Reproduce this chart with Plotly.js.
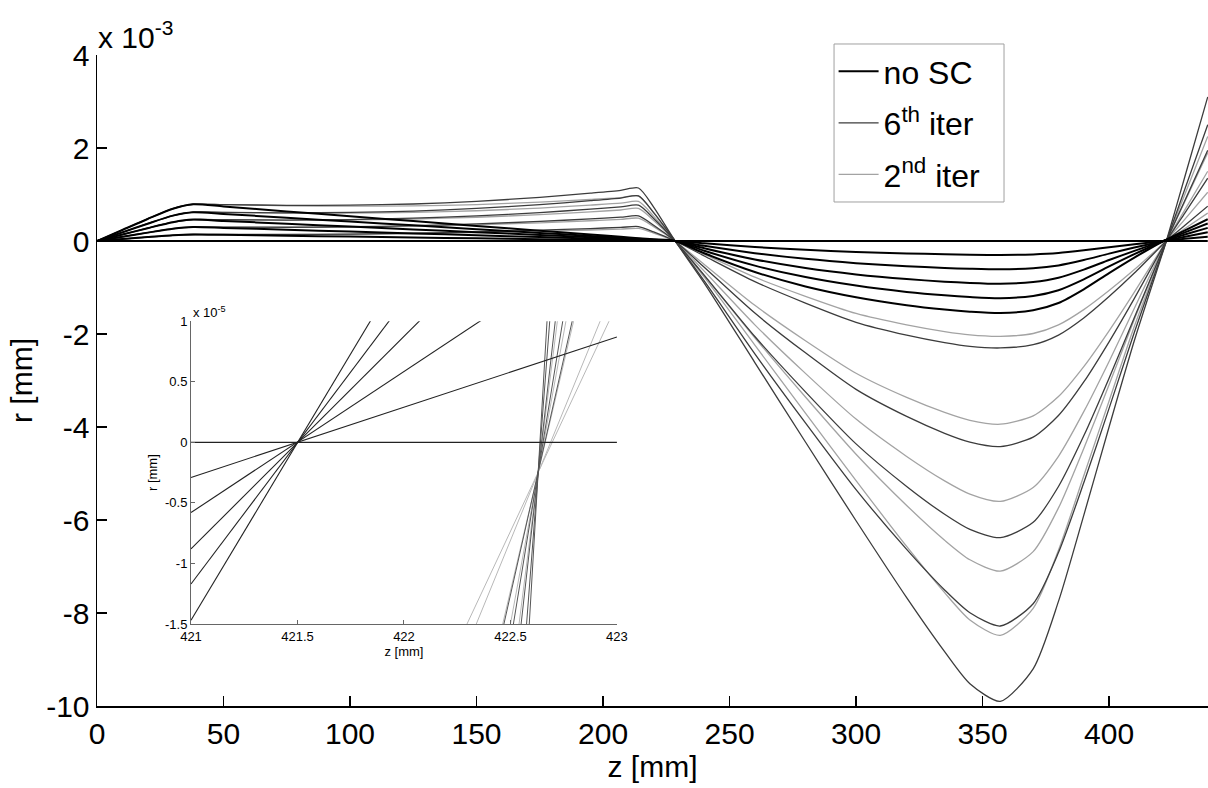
<!DOCTYPE html>
<html>
<head>
<meta charset="utf-8">
<script src="https://cdn.plot.ly/plotly-3.0.1.min.js"></script>
<style>
html,body{margin:0;padding:0;background:#fff;}
#chart{width:1208px;height:788px;}
</style>
</head>
<body>
<div id="chart"></div>
<script>
// ---------- main plot data (r in units of 1e-3 mm) ----------
const z = [0, 10, 20, 30, 38, 50, 75, 100, 125, 150, 175, 195, 207, 214, 220, 228.5, 240, 260, 280, 300, 320, 335, 345, 357, 370, 380, 390, 400, 410, 421.5, 422.65, 430, 439];

const noSC0 = [0,0,0,0,0,0,0,0,0,0,0,0,0,0,0,0,0,0,0,0,0,0,0,0,0,0,0,0,0,0,0,0,0];
const noSC1 = [0, 0.042, 0.084, 0.123, 0.14, 0.132, 0.113, 0.095, 0.076, 0.058, 0.039, 0.025, 0.016, 0.011, 0.006, 0, -0.051, -0.129, -0.189, -0.234, -0.267, -0.285, -0.294, -0.30, -0.288, -0.258, -0.201, -0.134, -0.069, 0, 0.006, 0.046, 0.094];
const noSC2 = [0, 0.09, 0.18, 0.264, 0.30, 0.282, 0.242, 0.203, 0.163, 0.124, 0.084, 0.053, 0.034, 0.023, 0.014, 0, -0.104, -0.262, -0.384, -0.476, -0.543, -0.58, -0.598, -0.61, -0.586, -0.525, -0.409, -0.271, -0.14, 0, 0.012, 0.092, 0.188];
const noSC3 = [0, 0.138, 0.276, 0.405, 0.46, 0.432, 0.371, 0.31, 0.25, 0.19, 0.129, 0.081, 0.052, 0.035, 0.021, 0, -0.156, -0.396, -0.58, -0.718, -0.819, -0.874, -0.902, -0.92, -0.883, -0.791, -0.616, -0.409, -0.212, 0, 0.018, 0.138, 0.282];
const noSC4 = [0, 0.186, 0.372, 0.546, 0.62, 0.583, 0.50, 0.419, 0.337, 0.255, 0.174, 0.109, 0.07, 0.047, 0.028, 0, -0.209, -0.529, -0.775, -0.959, -1.095, -1.169, -1.205, -1.23, -1.181, -1.058, -0.824, -0.547, -0.283, 0, 0.024, 0.184, 0.376];
const noSC5 = [0, 0.237, 0.474, 0.695, 0.79, 0.743, 0.637, 0.533, 0.429, 0.325, 0.222, 0.139, 0.089, 0.06, 0.036, 0, -0.264, -0.667, -0.977, -1.209, -1.38, -1.473, -1.519, -1.55, -1.488, -1.333, -1.039, -0.69, -0.357, 0, 0.03, 0.23, 0.47];

const iter6_1 = [0, 0.042, 0.084, 0.123, 0.14, 0.14, 0.14, 0.15, 0.167, 0.195, 0.232, 0.268, 0.293, 0.31, 0.195, 0, -0.322, -0.874, -1.334, -1.748, -2.024, -2.185, -2.266, -2.30, -2.231, -2.024, -1.656, -1.196, -0.69, -0.058, 0, 0.337, 0.75];
const iter6_2 = [0, 0.09, 0.18, 0.264, 0.30, 0.298, 0.296, 0.306, 0.329, 0.367, 0.421, 0.476, 0.512, 0.54, 0.34, 0, -0.565, -1.551, -2.405, -3.191, -3.773, -4.135, -4.325, -4.42, -4.219, -3.754, -3.032, -2.168, -1.234, -0.105, 0, 0.607, 1.35];
const iter6_3 = [0, 0.138, 0.276, 0.405, 0.46, 0.457, 0.451, 0.461, 0.49, 0.54, 0.611, 0.684, 0.732, 0.77, 0.485, 0, -0.738, -2.054, -3.244, -4.363, -5.278, -5.876, -6.201, -6.38, -6.05, -5.28, -4.19, -2.95, -1.647, -0.144, 0, 0.877, 1.95];
const iter6_4 = [0, 0.186, 0.372, 0.546, 0.62, 0.616, 0.604, 0.614, 0.643, 0.70, 0.782, 0.868, 0.924, 0.97, 0.61, 0, -0.858, -2.426, -3.912, -5.347, -6.632, -7.505, -7.995, -8.28, -7.80, -6.70, -5.20, -3.60, -1.964, -0.176, 0, 1.124, 2.5];
const iter6_5 = [0, 0.237, 0.474, 0.695, 0.79, 0.784, 0.766, 0.77, 0.796, 0.853, 0.939, 1.029, 1.089, 1.14, 0.73, 0, -0.905, -2.614, -4.323, -6.016, -7.669, -8.83, -9.52, -9.9, -9.20, -7.75, -5.90, -4.00, -2.141, -0.198, 0, 1.393, 3.1];

const iter2_1 = [0, 0.042, 0.084, 0.123, 0.14, 0.139, 0.139, 0.145, 0.158, 0.179, 0.208, 0.237, 0.256, 0.27, 0.17, 0, -0.287, -0.779, -1.189, -1.558, -1.804, -1.948, -2.019, -2.05, -1.989, -1.804, -1.476, -1.066, -0.615, -0.051, 0, 0.27, 0.6];
const iter2_2 = [0, 0.09, 0.18, 0.264, 0.30, 0.298, 0.293, 0.30, 0.316, 0.347, 0.391, 0.436, 0.466, 0.49, 0.31, 0, -0.504, -1.383, -2.144, -2.844, -3.364, -3.686, -3.856, -3.94, -3.761, -3.346, -2.702, -1.932, -1.10, -0.094, 0, 0.472, 1.05];
const iter2_3 = [0, 0.138, 0.276, 0.405, 0.46, 0.456, 0.448, 0.453, 0.473, 0.511, 0.568, 0.628, 0.667, 0.70, 0.44, 0, -0.648, -1.803, -2.847, -3.83, -4.633, -5.158, -5.443, -5.6, -5.30, -4.63, -3.67, -2.59, -1.446, -0.126, 0, 0.674, 1.5];
const iter2_4 = [0, 0.186, 0.372, 0.546, 0.62, 0.615, 0.599, 0.599, 0.614, 0.651, 0.709, 0.772, 0.813, 0.85, 0.535, 0, -0.736, -2.08, -3.355, -4.585, -5.687, -6.435, -6.856, -7.1, -6.68, -5.74, -4.46, -3.09, -1.684, -0.151, 0, 0.854, 1.9];
const iter2_5 = [0, 0.237, 0.474, 0.695, 0.79, 0.783, 0.758, 0.749, 0.755, 0.784, 0.836, 0.893, 0.932, 0.97, 0.61, 0, -0.775, -2.239, -3.703, -5.153, -6.569, -7.563, -8.15, -8.48, -7.90, -6.65, -5.05, -3.44, -1.834, -0.17, 0, 1.011, 2.25];

const mainYTickVals = [-10, -8, -6, -4, -2, 0, 2, 4];
const mainYTickText = ['-10', '-8', '-6', '-4', '-2', '0', '2', '4'];
const mainXTickVals = [0, 50, 100, 150, 200, 250, 300, 350, 400];

// ---------- inset data (r in units of 1e-5 mm) ----------
const insetZ_noSC = [421, 423];
const inNo0 = [0, 0];
const inNo1 = [-0.29, 0.87];
const inNo2 = [-0.58, 1.75];
const inNo3 = [-0.88, 2.63];
const inNo4 = [-1.17, 3.50];
const inNo5 = [-1.47, 4.40];

const insetZ_SC = [422.2, 423];
const in2_a = [-1.86, 1.14];
const in2_b = [-2.10, 1.34];
const in2_c = [-3.48, 2.53];
const in2_d = [-4.38, 3.30];
const in2_e = [-6.23, 4.89];
const in6_a = [-3.60, 2.64];
const in6_b = [-4.89, 3.75];
const in6_c = [-6.96, 5.52];
const in6_d = [-10.14, 8.26];
const in6_e = [-13.15, 10.85];

const insetXTickVals = [421, 421.5, 422, 422.5, 423];
const insetXTickText = ['421', '421.5', '422', '422.5', '423'];
const insetYTickVals = [-1.5, -1, -0.5, 0, 0.5, 1];
const insetYTickText = ['-1.5', '-1', '-0.5', '0', '0.5', '1'];

// ---------- styles ----------
const C_NOSC = '#000000', C_6 = '#3c3c3c', C_2 = '#a3a3a3';
const FONT = 'Liberation Sans, Arial, Helvetica, sans-serif';
const SH = {shape: 'spline', smoothing: 0.7};

const traces = [];
function addMain(y, color, width, name, show, rank, grp) {
  traces.push({x: z, y: y, type: 'scatter', mode: 'lines',
    line: Object.assign({color: color, width: width}, SH),
    name: name, showlegend: show, legendrank: rank, legendgroup: grp, hoverinfo: 'skip',
    xaxis: 'x', yaxis: 'y'});
}
const it2 = [iter2_1, iter2_2, iter2_3, iter2_4, iter2_5];
const it6 = [iter6_1, iter6_2, iter6_3, iter6_4, iter6_5];
const nos = [noSC0, noSC1, noSC2, noSC3, noSC4, noSC5];
it2.forEach((y, i) => addMain(y, C_2, 1.3, '2<sup>nd</sup> iter', i === 0, 3, 'g2'));
it6.forEach((y, i) => addMain(y, C_6, 1.3, '6<sup>th</sup> iter', i === 0, 2, 'g6'));
nos.forEach((y, i) => addMain(y, C_NOSC, 2, 'no SC', i === 0, 1, 'g0'));

function addInset(xs, y, color, width) {
  traces.push({x: xs, y: y, type: 'scatter', mode: 'lines',
    line: {color: color, width: width}, showlegend: false, hoverinfo: 'skip',
    xaxis: 'x2', yaxis: 'y2'});
}
[in2_a, in2_b, in2_c, in2_d, in2_e].forEach(y => addInset(insetZ_SC, y, '#b8b8b8', 1));
[in6_a, in6_b, in6_c, in6_d, in6_e].forEach(y => addInset(insetZ_SC, y, '#555555', 1));
[inNo0, inNo1, inNo2, inNo3, inNo4, inNo5].forEach(y => addInset(insetZ_noSC, y, '#222222', 1.1));

const layout = {
  width: 1208, height: 788,
  margin: {l: 97, r: 0, t: 55, b: 82, pad: 0},
  paper_bgcolor: '#ffffff', plot_bgcolor: 'rgba(0,0,0,0)',
  font: {family: FONT, color: '#000', size: 30},
  showlegend: true,
  legend: {
    x: 0.663, y: 1.017, xanchor: 'left', yanchor: 'top',
    bgcolor: 'rgba(0,0,0,0)', borderwidth: 0,
    font: {family: FONT, size: 32, color: '#000'},
    itemwidth: 40, tracegroupgap: 7, valign: 'middle'
  },
  shapes: [
    {type: 'rect', xref: 'paper', yref: 'paper', x0: 0.6634, x1: 0.8164, y0: 0.7742, y1: 1.0169,
     line: {color: '#a0a0a0', width: 1}, fillcolor: '#ffffff', layer: 'above'}
  ],
  xaxis: {
    domain: [0, 1], range: [0, 439.1], showgrid: false, zeroline: false,
    showline: true, linecolor: '#000', linewidth: 1.5,
    ticks: 'inside', ticklen: 10, tickwidth: 1.2, tickcolor: '#000',
    tickvals: mainXTickVals, tickfont: {size: 30, family: FONT},
    title: {text: 'z [mm]', font: {size: 30, family: FONT}, standoff: 0},
    fixedrange: true
  },
  yaxis: {
    domain: [0, 1], range: [-10, 4], showgrid: false, zeroline: false,
    showline: true, linecolor: '#000', linewidth: 1.5,
    ticks: 'inside', ticklen: 10, tickwidth: 1.2, tickcolor: '#000',
    tickvals: mainYTickVals, ticktext: mainYTickText, tickfont: {size: 30, family: FONT},
    title: {text: 'r [mm]', font: {size: 30, family: FONT}, standoff: 4},
    fixedrange: true
  },
  xaxis2: {
    domain: [0.0846, 0.468], anchor: 'y2', range: [421, 423],
    showgrid: false, zeroline: false, showline: true, linecolor: '#666', linewidth: 1,
    ticks: 'inside', ticklen: 4, tickwidth: 1, tickcolor: '#666',
    tickvals: insetXTickVals, ticktext: insetXTickText, tickfont: {size: 13, family: FONT},
    title: {text: 'z [mm]', font: {size: 13, family: FONT}, standoff: 0},
    fixedrange: true
  },
  yaxis2: {
    domain: [0.126, 0.591], anchor: 'x2', range: [-1.5, 1],
    showgrid: false, zeroline: false, showline: true, linecolor: '#666', linewidth: 1,
    ticks: 'inside', ticklen: 4, tickwidth: 1, tickcolor: '#666',
    tickvals: insetYTickVals, ticktext: insetYTickText, tickfont: {size: 13, family: FONT},
    title: {text: 'r [mm]', font: {size: 13, family: FONT}, standoff: 4},
    fixedrange: true
  },
  annotations: [
    {text: 'x 10<sup>-3</sup>', xref: 'paper', yref: 'paper', x: 0, y: 1.0, xanchor: 'left', yanchor: 'bottom',
     showarrow: false, font: {size: 30, family: FONT, color: '#000'}, borderpad: 0},
    {text: 'x 10<sup>-5</sup>', xref: 'paper', yref: 'paper', x: 0.0855, y: 0.591, xanchor: 'left', yanchor: 'bottom',
     showarrow: false, font: {size: 13, family: FONT, color: '#000'}, borderpad: 0}
  ]
};

Plotly.newPlot('chart', traces, layout, {staticPlot: true, displayModeBar: false});
</script>
</body>
</html>
